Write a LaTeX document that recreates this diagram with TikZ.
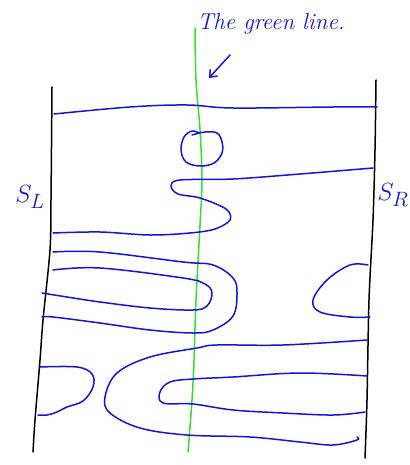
\documentclass[tikz,border=0pt]{standalone}
\usepackage{fontspec}
\usetikzlibrary{arrows.meta}
\begin{document}
\begin{tikzpicture}[x=1pt,y=-1pt,
  wall/.style={draw=black,line width=1.5pt,line cap=round,line join=round},
  curve/.style={draw=penblue,line width=1.5pt,line cap=round,line join=round},
  gline/.style={draw=pengreen,line width=1.5pt,line cap=round},
  lbl/.style={text=penblue,inner sep=0pt,font=\itshape}]
\definecolor{penblue}{RGB}{20,20,225}
\definecolor{pengreen}{RGB}{50,225,40}
\useasboundingbox (0,0) rectangle (409,465);
% walls
\draw[wall] plot[smooth,tension=0.5] coordinates {(52,87) (51,200) (50,250) (43,320) (40,360) (35,420) (33,452)};
\draw[wall] plot[smooth,tension=0.5] coordinates {(376,80) (375,150) (373,220) (369,300) (367,400) (365,458)};
% green line
\draw[gline] plot[smooth,tension=0.6] coordinates {(195,28) (196,80) (200,130) (202,180) (200,225) (196,300) (194,360) (192,400) (188,452)};
% blue curves
\draw[curve] plot[smooth,tension=0.6] coordinates {(54,114) (130,107) (187,105) (233,108) (333,107) (377,107)};
\draw[curve] plot[smooth,tension=0.6] coordinates {(192,135) (205,132) (217,133) (222,142) (222,153) (214,163) (200,166) (186,162) (181,150) (184,137) (192,131) (199,133)};
\draw[curve] plot[smooth,tension=0.55] coordinates {(373,168) (300,174) (233,179) (180,180) (171,186) (178,194) (200,198) (226,209) (230,220) (215,229) (190,233) (150,235) (100,232) (53,233)};
\draw[curve] plot[smooth,tension=0.6] coordinates {(53,252) (100,252) (183,262) (213,265) (233,278) (237,293) (233,316) (213,330) (193,333) (150,330) (100,323) (53,317) (42,317)};
\draw[curve] plot[smooth,tension=0.6] coordinates {(53,270) (100,268) (183,278) (205,284) (212,293) (207,306) (193,310) (150,308) (100,302) (67,297) (42,293)};
\draw[curve] plot[smooth,tension=0.6] coordinates {(368,265) (350,265) (327,280) (313,300) (320,312) (350,317) (370,317)};
\draw[curve] plot[smooth,tension=0.6] coordinates {(367,340) (283,345) (217,345) (197,348) (150,357) (117,373) (105,397) (110,413) (140,428) (187,435) (250,437) (300,442) (333,445) (357,440) (357,437)};
\draw[curve] plot[smooth,tension=0.6] coordinates {(367,376) (300,373) (233,377) (193,379) (170,382) (160,392) (163,403) (193,404) (233,410) (283,413) (333,415) (365,412)};
\draw[curve] plot[smooth,tension=0.6] coordinates {(40,367) (77,367) (92,374) (93,387) (83,401) (67,407) (57,412) (47,415) (38,415)};
% labels
\node[lbl,font=\itshape\fontsize{23}{26}\selectfont] (title) at (271,24) {The green line.};
\coordinate (atail) at (230,55);
\coordinate (ahead) at (209,78);
\draw[curve,-{Straight Barb[length=6pt,width=10pt]}] (atail) -- (ahead);
\node[lbl,font=\fontsize{30}{34}\selectfont] (sl) at (30,197) {$S_L$};
\node[lbl,font=\fontsize{30}{34}\selectfont] (sr) at (393,195) {$S_R$};
\end{tikzpicture}
\end{document}
